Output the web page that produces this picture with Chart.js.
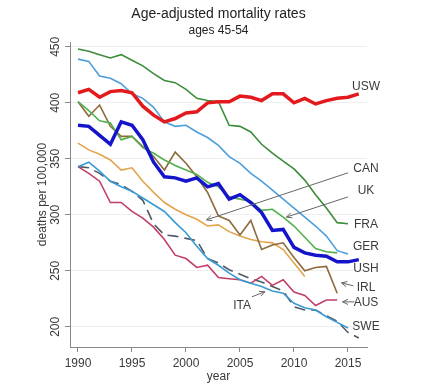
<!DOCTYPE html>
<html>
<head>
<meta charset="utf-8">
<script src="https://cdn.jsdelivr.net/npm/chart.js@4.4.0/dist/chart.umd.min.js"></script>
<style>
  html, body { margin: 0; padding: 0; background: #fff; }
</style>
</head>
<body>
<canvas id="chart" width="429" height="387"></canvas>
<script>
const years = [1990, 1991, 1992, 1993, 1994, 1995, 1996, 1997, 1998, 1999,
               2000, 2001, 2002, 2003, 2004, 2005, 2006, 2007, 2008, 2009,
               2010, 2011, 2012, 2013, 2014, 2015, 2016];
const xTicks = [1990, 1995, 2000, 2005, 2010, 2015];
const yTicks = [200, 250, 300, 350, 400, 450];

// deaths per 100,000, from 1990 onwards
const usw = [409, 412, 405, 410, 411, 409, 397, 389, 383, 386,
             391, 392, 400, 401, 401, 406, 405, 402, 408, 408,
             400, 404, 399, 402, 404, 405, 408];
const ush = [380, 379, 371, 363, 383, 380, 367, 347, 334, 333,
             330, 333, 325, 328, 314, 318, 311, 302, 286, 287,
             271, 266, 264, 263, 258, 258, 260];
const fra = [448, 446, 443, 440, 443, 438, 433, 426, 420, 418,
             412, 404, 402, 401, 380, 379, 374, 363, 355, 348,
             341, 331, 318, 306, 293, 292];
const ger = [439, 437, 424, 422, 417, 408, 404, 396, 383, 379,
             380, 374, 369, 362, 352, 346, 337, 330, 322, 314,
             306, 298, 290, 281, 268, 265];
const uk  = [401, 393, 384, 382, 367, 370, 360, 355, 349, 344,
             340, 336, 329, 325, 316, 314, 312, 304, 305, 298,
             290, 280, 270, 267, 266];
const irl = [401, 388, 398, 379, 370, 370, 361, 352, 340, 356,
             346, 334, 320, 299, 295, 282, 295, 269, 273, 275,
             262, 250, 253, 254, 230];
const can = [364, 358, 354, 349, 340, 342, 330, 320, 311, 305,
             300, 296, 290, 291, 285, 281, 278, 276, 275, 269,
             257, 245];
const aus = [343, 337, 330, 311, 311, 303, 297, 289, 278, 264,
             261, 253, 255, 244, 243, 242, 239, 245, 237, 242,
             231, 228, 219, 224, 224];
const ita = [343, 347, 339, 330, 325, 321, 315, 309, 303, 293,
             284, 272, 261, 255, 248, 242, 239, 236, 232, 230,
             221, 217, 215, 209, 204, 199];
const swe = [343, 342, 337, 330, 327, 321, 313, 292, 282, 281,
             279, 277, 261, 257, 251, 247, 243, 240, 236, 232,
             218, 215, 215, 210, 205, 195, 190];

// text labels at the right margin, in data units
const seriesLabels = [
    { text: 'USW', x: 2016.67, y: 414.6 },
    { text: 'CAN', x: 2016.67, y: 341 },
    { text: 'UK',  x: 2016.67, y: 321.4 },
    { text: 'FRA', x: 2016.67, y: 291 },
    { text: 'GER', x: 2016.67, y: 271.4 },
    { text: 'USH', x: 2016.67, y: 251.8 },
    { text: 'IRL', x: 2016.67, y: 234.8 },
    { text: 'AUS', x: 2016.67, y: 221.4 },
    { text: 'SWE', x: 2016.67, y: 200 },
    { text: 'ITA', x: 2005.2,  y: 218.7 },
];
const arrows = [
    { from: [2015.0, 337.5], to: [2001.9, 295.5] },  // CAN
    { from: [2015.0, 316],   to: [2009.3, 298] },    // UK
    { from: [2015.5, 236.6], to: [2014.4, 239.3] },  // IRL
    { from: [2015.6, 222.3], to: [2014.5, 222.3] },  // AUS
    { from: [2006.1, 226.8], to: [2007.3, 231.3] },  // ITA
];

const FONT = '"Liberation Sans", Arial, sans-serif';

function serie(label, values, color, width, dash) {
    return {
        label,
        data: values.map((v, i) => ({ x: years[i], y: v })),
        borderColor: color,
        borderWidth: width,
        borderDash: dash || [],
        pointRadius: 0,
        tension: 0,
        fill: false,
    };
}

const titlePlugin = {
    id: 'titles',
    afterDraw(chart) {
        const ctx = chart.ctx;
        const cx = (chart.chartArea.left + chart.chartArea.right) / 2;
        ctx.save();
        ctx.fillStyle = '#222';
        ctx.textAlign = 'center';
        ctx.textBaseline = 'middle';
        ctx.font = '14px ' + FONT;
        ctx.fillText('Age-adjusted mortality rates', cx, 14);
        ctx.font = '12px ' + FONT;
        ctx.fillText('ages 45-54', cx, 31);
        ctx.restore();
    }
};

// y tick labels are written vertically
const yLabelPlugin = {
    id: 'yLabels',
    afterDraw(chart) {
        const ctx = chart.ctx;
        const y = chart.scales.y;
        ctx.save();
        ctx.fillStyle = '#3a3a3a';
        ctx.font = '12px ' + FONT;
        ctx.textAlign = 'center';
        ctx.textBaseline = 'middle';
        for (const v of yTicks) {
            ctx.save();
            ctx.translate(56, y.getPixelForValue(v));
            ctx.rotate(-Math.PI / 2);
            ctx.fillText(String(v), 0, 0);
            ctx.restore();
        }
        ctx.restore();
    }
};

const notesPlugin = {
    id: 'notes',
    afterDatasetsDraw(chart) {
        const ctx = chart.ctx;
        const sx = chart.scales.x, sy = chart.scales.y;
        ctx.save();
        ctx.fillStyle = '#3a3a3a';
        ctx.font = '12px ' + FONT;
        ctx.textAlign = 'center';
        ctx.textBaseline = 'middle';
        for (const l of seriesLabels) {
            ctx.fillText(l.text, sx.getPixelForValue(l.x), sy.getPixelForValue(l.y));
        }
        ctx.strokeStyle = '#666';
        ctx.lineWidth = 1;
        for (const a of arrows) {
            const x1 = sx.getPixelForValue(a.from[0]), y1 = sy.getPixelForValue(a.from[1]);
            const x2 = sx.getPixelForValue(a.to[0]),   y2 = sy.getPixelForValue(a.to[1]);
            const ang = Math.atan2(y2 - y1, x2 - x1);
            ctx.beginPath();
            ctx.moveTo(x1, y1);
            ctx.lineTo(x2, y2);
            ctx.moveTo(x2 - 6 * Math.cos(ang - 0.45), y2 - 6 * Math.sin(ang - 0.45));
            ctx.lineTo(x2, y2);
            ctx.lineTo(x2 - 6 * Math.cos(ang + 0.45), y2 - 6 * Math.sin(ang + 0.45));
            ctx.stroke();
        }
        ctx.restore();
    }
};

new Chart(document.getElementById('chart'), {
    type: 'line',
    data: {
        datasets: [
            serie('USW', usw, '#e3191d', 3.5),
            serie('USH', ush, '#1414cc', 3.5),
            serie('FRA', fra, '#3c8c3a', 1.6),
            serie('UK',  uk,  '#52b04c', 1.6),
            serie('GER', ger, '#4d9fdc', 1.6),
            serie('IRL', irl, '#8c6a3c', 1.6),
            serie('CAN', can, '#e2a54c', 1.6),
            serie('ITA', ita, '#3a9ad4', 1.6),
            serie('AUS', aus, '#c23e66', 1.6),
            serie('SWE', swe, '#4f5a68', 1.6, [11, 6]),
        ]
    },
    options: {
        responsive: false,
        animation: false,
        layout: { padding: { top: 42, right: 62, bottom: 0, left: 0 } },
        plugins: {
            legend: { display: false },
            tooltip: { enabled: false },
        },
        scales: {
            x: {
                type: 'linear',
                min: 1989.26,
                max: 2016.76,
                afterBuildTicks: s => { s.ticks = xTicks.map(v => ({ value: v })); },
                afterFit: s => { s.height = 40; },
                ticks: {
                    callback: v => String(v),
                    autoSkip: false,
                    maxRotation: 0,
                    color: '#3a3a3a',
                    font: { size: 12, family: FONT },
                    padding: 4,
                },
                grid: { drawOnChartArea: false, tickLength: 5, tickColor: '#888' },
                border: { color: '#888' },
                title: {
                    display: true,
                    text: 'year',
                    color: '#3a3a3a',
                    font: { size: 12, family: FONT },
                    padding: { top: 0, bottom: 3 },
                },
            },
            y: {
                type: 'linear',
                min: 182,
                max: 454.3,
                afterBuildTicks: s => { s.ticks = yTicks.map(v => ({ value: v })); },
                afterFit: s => { s.width = 70; },
                ticks: { display: false },
                grid: { color: '#eeeeee', tickLength: 5, tickColor: '#888' },
                border: { color: '#888' },
                title: {
                    display: true,
                    text: 'deaths per 100,000',
                    color: '#3a3a3a',
                    font: { size: 12, family: FONT },
                    padding: { top: 35, bottom: 0 },
                },
            },
        },
    },
    plugins: [titlePlugin, yLabelPlugin, notesPlugin],
});
</script>
</body>
</html>
